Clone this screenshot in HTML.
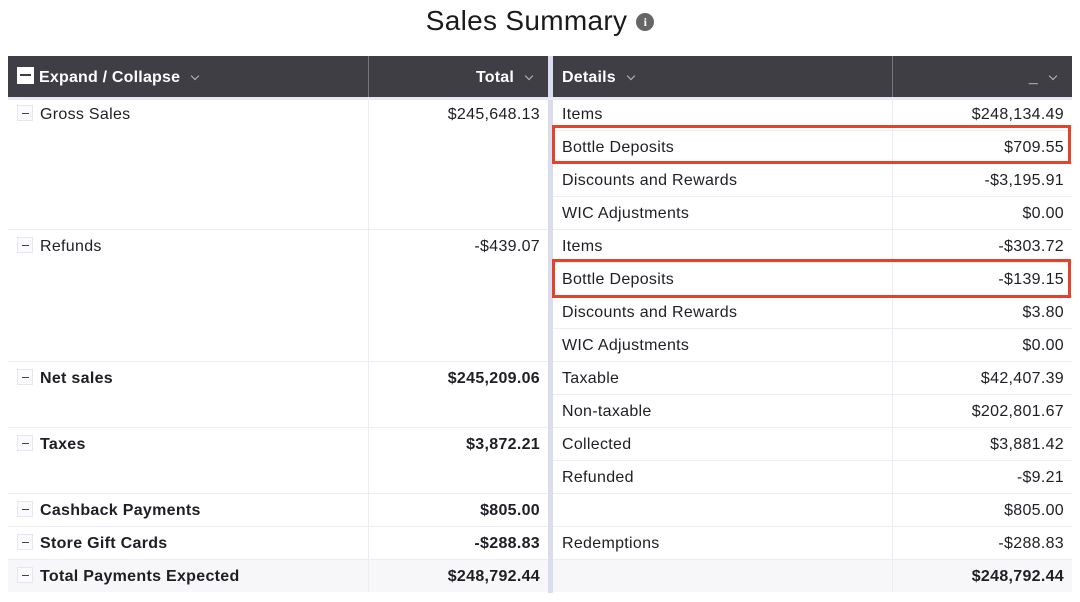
<!DOCTYPE html>
<html><head><meta charset="utf-8"><style>
*{margin:0;padding:0;box-sizing:border-box}
body{width:1080px;height:602px;background:#fff;font-family:"Liberation Sans",sans-serif;color:#1e1e24;position:relative;overflow:hidden}
.a{position:absolute}
.title{left:0;width:1080px;top:5px;text-align:center;font-size:28px;color:#1a1a1a;letter-spacing:0.3px}
.info{display:inline-block;width:18px;height:18px;border-radius:50%;background:#666;color:#fff;font-size:12px;font-weight:bold;line-height:18px;text-align:center;vertical-align:4px;margin-left:9px;font-family:"Liberation Serif",serif;letter-spacing:0}
.hdr{top:56px;height:41px;background:#3f3e45;color:#fff;font-size:16px;font-weight:bold;line-height:43px;letter-spacing:0.2px}
.cell{height:33px;line-height:35px;font-size:16px;white-space:nowrap;letter-spacing:0.3px}
.r{text-align:right;padding-right:8px}
.l{padding-left:9px}
.hl{height:1px;background:#ececf4}
.vl{width:1px;background:#ececf4}
.box{width:16px;height:16px;border:1px solid #e6e6f0;background:#fafaff;display:inline-block;vertical-align:-2px;margin-right:7px;position:relative}
.box:after{content:"";position:absolute;left:4px;top:7px;width:7px;height:1px;background:#444}
.b{font-weight:bold}
.chev{display:inline-block;width:6px;height:6px;border-right:1.5px solid #bbb;border-bottom:1.5px solid #bbb;transform:rotate(45deg);margin-left:12px;vertical-align:3px}
.red{border:3px solid #e2442b}
</style></head><body>
<div class="a title">Sales Summary<span class="info">i</span></div>

<div class="a hdr" style="left:8px;width:360px;padding-left:9px"><span style="display:inline-block;width:17px;height:17px;background:#fff;vertical-align:-2px;margin-right:5px;position:relative"><span style="position:absolute;left:3px;top:7px;width:11px;height:2px;background:#3f3e45"></span></span>Expand / Collapse<span class="chev"></span></div>
<div class="a hdr" style="left:368px;width:180px;text-align:right;padding-right:16px;border-left:1px solid #77767d">Total<span class="chev"></span></div>
<div class="a hdr" style="left:553px;width:339px;padding-left:9px">Details<span class="chev"></span></div>
<div class="a hdr" style="left:892px;width:180px;text-align:right;padding-right:16px;border-left:1px solid #77767d">_<span class="chev"></span></div>

<div class="a" style="left:548px;top:56px;width:5px;height:537px;background:#dcdcef"></div>
<div class="a" style="left:8px;top:97px;width:1064px;height:3px;background:#e8e8f4"></div>
<div class="a" style="left:8px;top:559px;width:540px;height:33px;background:#f7f7f9"></div>
<div class="a" style="left:553px;top:559px;width:519px;height:33px;background:#f7f7f9"></div>
<div class="a vl" style="left:368px;top:97px;height:495px"></div>
<div class="a vl" style="left:892px;top:97px;height:495px"></div>

<div class="a hl" style="left:8px;top:229px;width:540px"></div>
<div class="a hl" style="left:8px;top:361px;width:540px"></div>
<div class="a hl" style="left:8px;top:427px;width:540px"></div>
<div class="a hl" style="left:8px;top:493px;width:540px"></div>
<div class="a hl" style="left:8px;top:526px;width:540px"></div>
<div class="a hl" style="left:8px;top:559px;width:540px"></div>
<div class="a hl" style="left:553px;top:130px;width:519px"></div>
<div class="a hl" style="left:553px;top:163px;width:519px"></div>
<div class="a hl" style="left:553px;top:196px;width:519px"></div>
<div class="a hl" style="left:553px;top:229px;width:519px"></div>
<div class="a hl" style="left:553px;top:262px;width:519px"></div>
<div class="a hl" style="left:553px;top:295px;width:519px"></div>
<div class="a hl" style="left:553px;top:328px;width:519px"></div>
<div class="a hl" style="left:553px;top:361px;width:519px"></div>
<div class="a hl" style="left:553px;top:394px;width:519px"></div>
<div class="a hl" style="left:553px;top:427px;width:519px"></div>
<div class="a hl" style="left:553px;top:460px;width:519px"></div>
<div class="a hl" style="left:553px;top:493px;width:519px"></div>
<div class="a hl" style="left:553px;top:526px;width:519px"></div>
<div class="a hl" style="left:553px;top:559px;width:519px"></div>

<div class="a cell l" style="left:8px;top:97px;width:360px"><span class="box"></span>Gross Sales</div>
<div class="a cell r" style="left:368px;top:97px;width:180px">$245,648.13</div>
<div class="a cell l" style="left:8px;top:229px;width:360px"><span class="box"></span>Refunds</div>
<div class="a cell r" style="left:368px;top:229px;width:180px">-$439.07</div>
<div class="a cell l b" style="left:8px;top:361px;width:360px"><span class="box"></span>Net sales</div>
<div class="a cell r b" style="left:368px;top:361px;width:180px">$245,209.06</div>
<div class="a cell l b" style="left:8px;top:427px;width:360px"><span class="box"></span>Taxes</div>
<div class="a cell r b" style="left:368px;top:427px;width:180px">$3,872.21</div>
<div class="a cell l b" style="left:8px;top:493px;width:360px"><span class="box"></span>Cashback Payments</div>
<div class="a cell r b" style="left:368px;top:493px;width:180px">$805.00</div>
<div class="a cell l b" style="left:8px;top:526px;width:360px"><span class="box"></span>Store Gift Cards</div>
<div class="a cell r b" style="left:368px;top:526px;width:180px">-$288.83</div>
<div class="a cell l b" style="left:8px;top:559px;width:360px"><span class="box"></span>Total Payments Expected</div>
<div class="a cell r b" style="left:368px;top:559px;width:180px">$248,792.44</div>

<div class="a cell l" style="left:553px;top:97px">Items</div><div class="a cell r" style="left:892px;top:97px;width:180px">$248,134.49</div>
<div class="a cell l" style="left:553px;top:130px">Bottle Deposits</div><div class="a cell r" style="left:892px;top:130px;width:180px">$709.55</div>
<div class="a cell l" style="left:553px;top:163px">Discounts and Rewards</div><div class="a cell r" style="left:892px;top:163px;width:180px">-$3,195.91</div>
<div class="a cell l" style="left:553px;top:196px">WIC Adjustments</div><div class="a cell r" style="left:892px;top:196px;width:180px">$0.00</div>
<div class="a cell l" style="left:553px;top:229px">Items</div><div class="a cell r" style="left:892px;top:229px;width:180px">-$303.72</div>
<div class="a cell l" style="left:553px;top:262px">Bottle Deposits</div><div class="a cell r" style="left:892px;top:262px;width:180px">-$139.15</div>
<div class="a cell l" style="left:553px;top:295px">Discounts and Rewards</div><div class="a cell r" style="left:892px;top:295px;width:180px">$3.80</div>
<div class="a cell l" style="left:553px;top:328px">WIC Adjustments</div><div class="a cell r" style="left:892px;top:328px;width:180px">$0.00</div>
<div class="a cell l" style="left:553px;top:361px">Taxable</div><div class="a cell r" style="left:892px;top:361px;width:180px">$42,407.39</div>
<div class="a cell l" style="left:553px;top:394px">Non-taxable</div><div class="a cell r" style="left:892px;top:394px;width:180px">$202,801.67</div>
<div class="a cell l" style="left:553px;top:427px">Collected</div><div class="a cell r" style="left:892px;top:427px;width:180px">$3,881.42</div>
<div class="a cell l" style="left:553px;top:460px">Refunded</div><div class="a cell r" style="left:892px;top:460px;width:180px">-$9.21</div>
<div class="a cell r" style="left:892px;top:493px;width:180px">$805.00</div>
<div class="a cell l" style="left:553px;top:526px">Redemptions</div><div class="a cell r" style="left:892px;top:526px;width:180px">-$288.83</div>
<div class="a cell r b" style="left:892px;top:559px;width:180px">$248,792.44</div>

<div class="a red" style="left:552px;top:125px;width:519px;height:39px"></div>
<div class="a red" style="left:552px;top:259px;width:519px;height:39px"></div>
</body></html>
